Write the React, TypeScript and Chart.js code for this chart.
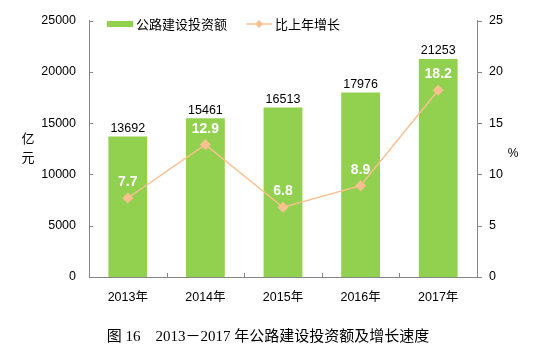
import React, { useEffect, useRef } from "react";
import { Chart, registerables } from "chart.js";

Chart.register(...registerables);

const categories = ["2013年", "2014年", "2015年", "2016年", "2017年"];
const investment = [13692, 15461, 16513, 17976, 21253];
const growth = [7.7, 12.9, 6.8, 8.9, 18.2];
const leftTicks = [0, 5000, 10000, 15000, 20000, 25000];
const rightTicks = [0, 5, 10, 15, 20, 25];
const barLabel = "公路建设投资额";
const lineLabel = "比上年增长";
const titleText = "图 16    2013－2017 年公路建设投资额及增长速度";

const GREEN = "#92D050";
const ORANGE = "#FAC090";
const AXIS = "#868686";
const SANS = "'Liberation Sans', Arial, 'Noto Sans CJK SC', sans-serif";
const SERIF = "'Liberation Serif', 'Times New Roman', 'Noto Sans CJK SC', serif";

const decorPlugin = {
  id: "decor",
  afterDatasetsDraw(chart: any) {
    const ctx = chart.ctx;
    const area = chart.chartArea;
    const yL = chart.scales.y;
    const yR = chart.scales.y1;
    ctx.save();
    // tick marks
    ctx.strokeStyle = AXIS;
    ctx.lineWidth = 1;
    ctx.beginPath();
    leftTicks.forEach((v) => {
      const py = Math.round(yL.getPixelForValue(v)) + 0.5;
      ctx.moveTo(area.left, py);
      ctx.lineTo(area.left + 4, py);
    });
    rightTicks.forEach((v) => {
      const py = Math.round(yR.getPixelForValue(v)) + 0.5;
      ctx.moveTo(area.right, py);
      ctx.lineTo(area.right + 5, py);
    });
    const n = categories.length;
    for (let i = 0; i <= n; i++) {
      const px = Math.round(area.left + ((area.right - area.left) * i) / n) + 0.5;
      ctx.moveTo(px, area.bottom);
      ctx.lineTo(px, area.bottom - 4);
    }
    ctx.stroke();

    // bar value labels
    const barMeta = chart.getDatasetMeta(1);
    ctx.fillStyle = "#000";
    ctx.font = "12.5px " + SANS;
    ctx.textAlign = "center";
    ctx.textBaseline = "bottom";
    barMeta.data.forEach((el: any, i: number) => {
      ctx.fillText(String(investment[i]), el.x, el.y - 2);
    });

    // line value labels
    const lineMeta = chart.getDatasetMeta(0);
    ctx.fillStyle = "#FFFFFF";
    ctx.font = "bold 14px " + SANS;
    ctx.textBaseline = "middle";
    lineMeta.data.forEach((el: any, i: number) => {
      ctx.fillText(growth[i].toFixed(1), el.x, el.y - 16);
    });

    // axis titles
    ctx.fillStyle = "#000";
    ctx.font = "13px 'Noto Sans CJK SC', sans-serif";
    ctx.textAlign = "center";
    ctx.fillText("亿", 28, 138);
    ctx.fillText("元", 28, 157);
    ctx.font = "12px " + SANS;
    ctx.fillText("%", 513, 154);

    // legend
    const ly = 24;
    ctx.fillStyle = GREEN;
    ctx.fillRect(107, ly - 3, 26, 6);
    ctx.fillStyle = "#000";
    ctx.font = "13px 'Noto Sans CJK SC', sans-serif";
    ctx.textAlign = "left";
    ctx.fillText(barLabel, 136, ly);
    ctx.strokeStyle = ORANGE;
    ctx.lineWidth = 1.5;
    ctx.beginPath();
    ctx.moveTo(246, ly);
    ctx.lineTo(272, ly);
    ctx.stroke();
    ctx.fillStyle = ORANGE;
    ctx.beginPath();
    ctx.moveTo(259, ly - 4);
    ctx.lineTo(263, ly);
    ctx.lineTo(259, ly + 4);
    ctx.lineTo(255, ly);
    ctx.closePath();
    ctx.fill();
    ctx.fillStyle = "#000";
    ctx.fillText(lineLabel, 275, ly);

    // bottom title
    ctx.font = "15px " + SERIF;
    ctx.textAlign = "center";
    ctx.fillText(titleText, 268, 337);
    ctx.restore();
  },
};

export default function App() {
  const ref = useRef<HTMLCanvasElement | null>(null);
  useEffect(() => {
    if (!ref.current) return;
    const chart = new Chart(ref.current, {
      type: "bar",
      data: {
        labels: categories,
        datasets: [
          {
            type: "line",
            label: lineLabel,
            data: growth,
            yAxisID: "y1",
            borderColor: ORANGE,
            backgroundColor: ORANGE,
            borderWidth: 1.5,
            pointStyle: "rectRot",
            pointRadius: 4.5,
            pointBackgroundColor: ORANGE,
            pointBorderColor: ORANGE,
            tension: 0,
            order: 0,
          } as any,
          {
            type: "bar",
            label: barLabel,
            data: investment,
            yAxisID: "y",
            backgroundColor: GREEN,
            borderWidth: 0,
            barPercentage: 0.5,
            categoryPercentage: 1,
            order: 1,
          } as any,
        ],
      },
      options: {
        animation: false,
        responsive: false,
        maintainAspectRatio: false,
        layout: { padding: { top: 17, left: 0, right: 0, bottom: 0 } },
        plugins: {
          legend: { display: false },
          tooltip: { enabled: false },
          title: { display: false },
        },
        scales: {
          x: {
            offset: true,
            grid: { display: false, drawTicks: false },
            border: { display: true, color: AXIS, width: 1 },
            ticks: { color: "#000", font: { size: 12.5, family: SANS }, padding: 13, maxRotation: 0 },
            afterFit: (s: any) => {
              s.height = 78;
            },
          },
          y: {
            position: "left",
            min: 0,
            max: 25000,
            grid: { display: false, drawTicks: false },
            border: { display: true, color: AXIS, width: 1 },
            ticks: {
              stepSize: 5000,
              color: "#000",
              font: { size: 12.5, family: SANS },
              padding: 13,
              callback: (v: any) => String(v),
            },
            afterFit: (s: any) => {
              s.width = 89;
            },
          },
          y1: {
            position: "right",
            min: 0,
            max: 25,
            grid: { display: false, drawTicks: false },
            border: { display: true, color: AXIS, width: 1 },
            ticks: {
              stepSize: 5,
              color: "#000",
              font: { size: 12.5, family: SANS },
              padding: 12,
              callback: (v: any) => String(v),
            },
            afterFit: (s: any) => {
              s.width = 73;
            },
          },
        },
      } as any,
      plugins: [decorPlugin],
    });
    return () => chart.destroy();
  }, []);
  return (
    <div style={{ position: "fixed", left: 0, top: 0, width: 550, height: 355, background: "#fff" }}>
      <canvas ref={ref} width={550} height={355} style={{ width: 550, height: 355 }} />
    </div>
  );
}
